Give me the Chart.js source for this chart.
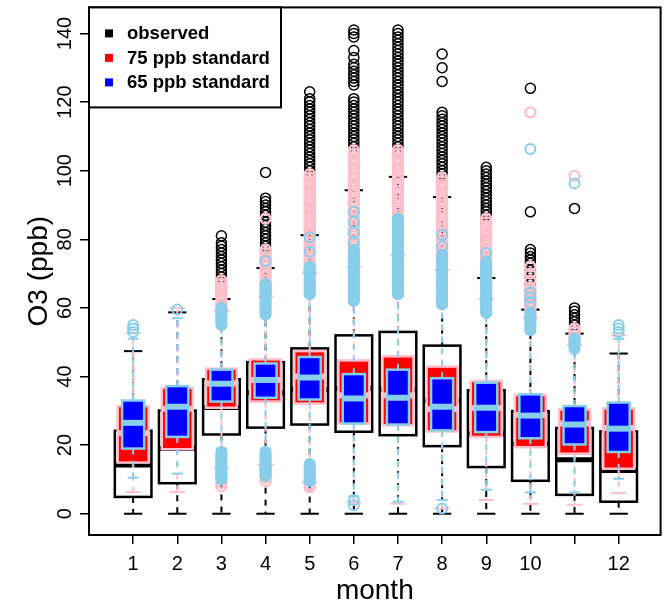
<!DOCTYPE html>
<html>
<head>
<meta charset="utf-8">
<script src="https://cdn.jsdelivr.net/npm/chart.js@4"></script>
<style>
  html, body { margin: 0; padding: 0; background: #fff; }
  canvas { display: block; }
</style>
</head>
<body>
<canvas id="chart" width="668" height="602"></canvas>
<script>
// data
const months = [1, 2, 3, 4, 5, 6, 7, 8, 9, 10, 11, 12];
const monthLabels = ['1', '2', '3', '4', '5', '6', '7', '8', '9', '10', '', '12'];
const yTicks = [0, 20, 40, 60, 80, 100, 120, 140];
const seriesNames = ['observed', '75 ppb standard', '65 ppb standard'];

// observed
const obsQ1  = [4.9, 8.9, 23.1, 25.1, 26.0, 23.9, 22.9, 19.7, 13.6, 9.6, 5.5, 3.5];
const obsMed = [14.2, 19, 31, 35.3, 36.2, 36.5, 36.2, 33, 23.3, 20.4, 15.7, 12.6];
const obsQ3  = [24.2, 30.1, 39.2, 44.2, 48.2, 52, 53, 49, 36, 29.9, 25, 24];
const obsLo  = [0, 0, 0, 0, 0, 0, 0, 0, 0, 0, 0, 0];
const obsHi  = [47.4, 58.7, 62.6, 71.6, 81.2, 94.3, 98.2, 92.3, 68.7, 59.5, 52.5, 46.7];
const obsOut = [
  [],
  [],
  [64, 65, 66, 67, 68, 69, 70, 71, 72, 73, 74, 75, 76, 77, 78, 79, 81],
  [73, 74, 75, 76, 77, 78, 79, 80, 81, 82, 83, 84, 85, 86, 87, 88, 89, 90, 91, 92, 99.5],
  [82, 83, 84, 85, 86, 87, 88, 89, 90, 91, 92, 93, 94, 95, 96, 97, 98, 99, 100, 101, 102, 103, 104, 105, 106, 107, 108, 109, 110, 111, 112, 113, 114, 115, 116, 117, 118, 119, 120, 121, 123],
  [95, 96, 97, 98, 99, 100, 101, 102, 103, 104, 105, 106, 107, 108, 109, 110, 111, 112, 113, 114, 115, 116, 117, 118, 119, 120, 121, 125, 126, 127, 128, 129, 130, 131, 133, 135, 139, 140, 141],
  [99, 100, 101, 102, 103, 104, 105, 106, 107, 108, 109, 110, 111, 112, 113, 114, 115, 116, 117, 118, 119, 120, 121, 122, 123, 124, 125, 126, 127, 128, 129, 130, 131, 132, 133, 134, 135, 136, 137, 138, 139, 140, 141],
  [93, 94, 95, 96, 97, 98, 99, 100, 101, 102, 103, 104, 105, 106, 107, 108, 109, 110, 111, 112, 113, 114, 115, 116, 117, 126, 130, 134],
  [70, 71, 72, 73, 74, 75, 76, 77, 78, 79, 80, 81, 82, 83, 84, 85, 86, 87, 88, 89, 90, 91, 92, 93, 94, 95, 96, 97, 98, 99, 100, 101],
  [60, 61, 62, 63, 64, 65, 66, 67, 68, 69, 70, 71, 72, 73, 74, 75, 76, 77, 88, 124],
  [53, 54, 55, 56, 57, 58, 59, 60, 89],
  []
];

// 75 ppb standard
const s75Q1  = [14.9, 18.8, 30.9, 32.7, 32.1, 26.3, 25.8, 24.0, 22.4, 19.4, 17.5, 13.1];
const s75Med = [23.5, 30.6, 38, 39, 40, 34.5, 34.5, 30.5, 30.8, 28.8, 26.3, 25];
const s75Q3  = [31.4, 36.7, 42.3, 45, 47.4, 44.7, 45.9, 42.9, 38.7, 34.6, 30.4, 30.7];
const s75Lo  = [6.3, 6.3, 13.5, 14.2, 9.2, 3.3, 2.9, 1.5, 4, 2.9, 2.6, 6];
const s75Hi  = [52.7, 60, 59.2, 63.3, 70.3, 72, 75.5, 71.1, 62.6, 57, 49.3, 52];
const s75Out = [
  [],
  [],
  [8, 9, 10, 11, 12, 60, 61, 62, 63, 64, 65, 66, 67, 68],
  [9.5, 10.5, 11.5, 12.5, 13.5, 64, 65, 66, 67, 68, 69, 70, 71, 72, 73, 74, 75, 76, 77, 86],
  [7.7, 8.5, 71, 72, 73, 74, 75, 76, 77, 78, 79, 80, 81, 82, 83, 84, 85, 86, 87, 88, 89, 90, 91, 92, 93, 94, 95, 96, 97, 98, 99],
  [73, 74, 75, 76, 77, 78, 79, 80, 81, 82, 83, 84, 85, 86, 87, 88, 89, 90, 91, 92, 93, 94, 95, 96, 97, 98, 99, 100, 101, 102, 103, 104, 105, 106],
  [76, 77, 78, 79, 80, 81, 82, 83, 84, 85, 86, 87, 88, 89, 90, 91, 92, 93, 94, 95, 96, 97, 98, 99, 100, 101, 102, 103, 104, 105, 106],
  [72, 73, 74, 75, 76, 77, 78, 79, 80, 81, 82, 83, 84, 85, 86, 87, 88, 89, 90, 91, 92, 93, 94, 95, 96, 97, 98],
  [63, 64, 65, 66, 67, 68, 69, 70, 71, 72, 73, 74, 75, 76, 77, 78, 79, 80, 81, 82, 83, 84, 85, 86],
  [58, 59, 60, 61, 62, 63, 64, 65, 66, 68, 70, 72, 117],
  [50, 51, 52, 53, 54, 98.5],
  []
];

// 65 ppb standard
const s65Q1  = [19.0, 22.4, 32.7, 33.8, 33.3, 26.3, 26.0, 24.3, 23.8, 22.0, 20.2, 18.0];
const s65Med = [26.5, 31.2, 37.9, 39.0, 39.7, 33.6, 33.8, 31.2, 30.9, 28.6, 26.0, 24.8];
const s65Q3  = [33.0, 37.2, 42.0, 43.8, 45.7, 40.7, 42.0, 39.5, 38.2, 34.8, 31.4, 32.4];
const s65Lo  = [10.5, 11.7, 19, 19, 15, 5, 3.5, 4, 7, 6.2, 6.2, 10.2];
const s65Hi  = [51, 57, 54.5, 57.5, 63.5, 61.5, 63.5, 60.5, 58, 53, 47.5, 51];
const s65Out = [
  [53, 54, 55],
  [59.5],
  [10, 10.5, 11, 11.5, 12, 12.5, 13, 13.5, 14, 14.5, 15, 15.5, 16, 16.5, 17, 17.5, 18,
   55, 55.5, 56, 56.5, 57, 57.5, 58, 58.5, 59, 59.5, 60],
  [11, 11.5, 12, 12.5, 13, 13.5, 14, 14.5, 15, 15.5, 16, 16.5, 17, 17.5, 18,
   58, 58.5, 59, 59.5, 60, 60.5, 61, 61.5, 62, 62.5, 63, 63.5, 64, 64.5, 65, 65.5, 66, 66.5, 67, 73.7],
  [9.5, 10, 10.5, 11, 11.5, 12, 12.5, 13, 13.5, 14, 14.5,
   64, 64.5, 65, 65.5, 66, 66.5, 67, 67.5, 68, 68.5, 69, 69.5, 70, 70.5, 71, 71.5, 72, 76.4, 80.6],
  [2.5, 4, 62, 62.5, 63, 63.5, 64, 64.5, 65, 65.5, 66, 66.5, 67, 67.5, 68, 68.5, 69, 69.5, 70, 70.5,
   71, 71.5, 72, 72.5, 73, 73.5, 74, 74.5, 75, 75.5, 76, 76.5, 77, 79, 82, 85, 88],
  [64, 64.5, 65, 65.5, 66, 66.5, 67, 67.5, 68, 68.5, 69, 69.5, 70, 70.5, 71, 71.5, 72, 72.5, 73, 73.5,
   74, 74.5, 75, 75.5, 76, 76.5, 77, 77.5, 78, 78.5, 79, 79.5, 80, 80.5, 81, 81.5, 82, 82.5, 83, 83.5,
   84, 84.5, 85, 85.5, 86],
  [1.5, 61, 61.5, 62, 62.5, 63, 63.5, 64, 64.5, 65, 65.5, 66, 66.5, 67, 67.5, 68, 68.5, 69, 69.5, 70,
   70.5, 71, 71.5, 72, 72.5, 73, 73.5, 74, 74.5, 75, 75.5, 78, 81.3],
  [58.5, 59, 59.5, 60, 60.5, 61, 61.5, 62, 62.5, 63, 63.5, 64, 64.5, 65, 65.5, 66, 66.5, 67, 67.5, 68,
   68.5, 69, 69.5, 70, 70.5, 71, 71.5, 72, 72.5, 73, 73.5, 76],
  [53.5, 54, 54.5, 55, 55.5, 56, 56.5, 57, 57.5, 58, 58.5, 61.5, 63, 64.5, 106.3],
  [48, 48.5, 49, 49.5, 50, 50.5, 51, 96.3],
  [53, 54, 55]
];

// styles for each box series
const boxStyles = {
  obs: { q1: obsQ1, med: obsMed, q3: obsQ3, lo: obsLo, hi: obsHi,
         fill: null, border: '#000000', line: '#000000', width: 0.83, medWidth: 5 },
  s75: { q1: s75Q1, med: s75Med, q3: s75Q3, lo: s75Lo, hi: s75Hi,
         fill: '#FF0000', border: '#FFC0CB', line: '#FFC0CB', width: 0.70, medWidth: 6 },
  s65: { q1: s65Q1, med: s65Med, q3: s65Q3, lo: s65Lo, hi: s65Hi,
         fill: '#0000FF', border: '#87CEEB', line: '#87CEEB', width: 0.50, medWidth: 6 }
};
const legendColors = ['#000000', '#FF0000', '#0000FF'];

function outlierPoints(lists) {
  const pts = [];
  lists.forEach((vals, i) => vals.forEach(v => pts.push({ x: months[i], y: v })));
  return pts;
}

function seg(ctx, x1, y1, x2, y2) {
  ctx.beginPath();
  ctx.moveTo(x1, y1);
  ctx.lineTo(x2, y2);
  ctx.stroke();
}

// boxes, whiskers and medians are drawn just before each series' outliers
const boxPlugin = {
  id: 'boxes',
  beforeDatasetDraw(chart, args) {
    const st = boxStyles[chart.data.datasets[args.index].key];
    const xs = chart.scales.x, ys = chart.scales.y, ctx = chart.ctx;
    ctx.save();
    months.forEach((m, i) => {
      const cx = xs.getPixelForValue(m);
      const hw = xs.getPixelForValue(m + st.width / 2) - cx;
      const yq1 = ys.getPixelForValue(st.q1[i]);
      const yq3 = ys.getPixelForValue(st.q3[i]);
      const ymd = ys.getPixelForValue(st.med[i]);
      const ylo = ys.getPixelForValue(st.lo[i]);
      const yhi = ys.getPixelForValue(st.hi[i]);

      // whiskers (dashed) and staples
      ctx.strokeStyle = st.line;
      ctx.lineWidth = 2;
      ctx.setLineDash([6, 6]);
      seg(ctx, cx, yq3, cx, yhi);
      seg(ctx, cx, yq1, cx, ylo);
      ctx.setLineDash([]);
      seg(ctx, cx - hw / 2, yhi, cx + hw / 2, yhi);
      seg(ctx, cx - hw / 2, ylo, cx + hw / 2, ylo);

      // box
      if (st.fill) {
        ctx.fillStyle = st.fill;
        ctx.fillRect(cx - hw, yq3, 2 * hw, yq1 - yq3);
      }
      ctx.strokeStyle = st.border;
      ctx.lineWidth = 2.5;
      ctx.strokeRect(cx - hw, yq3, 2 * hw, yq1 - yq3);

      // median
      ctx.lineWidth = st.medWidth;
      seg(ctx, cx - hw, ymd, cx + hw, ymd);
    });
    ctx.restore();
  },
  afterDraw(chart) {
    const ctx = chart.ctx, area = chart.chartArea, ys = chart.scales.y;
    ctx.save();
    // frame
    ctx.strokeStyle = '#000';
    ctx.lineWidth = 2;
    ctx.strokeRect(area.left, area.top, area.right - area.left, area.bottom - area.top);

    // y tick labels, turned like R does
    ctx.fillStyle = '#000';
    ctx.font = '20px "Liberation Sans", Arial, sans-serif';
    ctx.textAlign = 'center';
    ctx.textBaseline = 'alphabetic';
    yTicks.forEach(v => {
      ctx.save();
      ctx.translate(area.left - 18, ys.getPixelForValue(v));
      ctx.rotate(-Math.PI / 2);
      ctx.fillText(String(v), 0, 0);
      ctx.restore();
    });

    // axis titles
    ctx.font = '28px "Liberation Sans", Arial, sans-serif';
    ctx.fillText('month', (area.left + area.right) / 2, 599);
    ctx.save();
    ctx.translate(area.left - 42, (area.top + area.bottom) / 2);
    ctx.rotate(-Math.PI / 2);
    ctx.fillText('O3 (ppb)', 0, 0);
    ctx.restore();

    // legend
    const lx = area.left, ly = area.top;
    ctx.fillStyle = '#fff';
    ctx.fillRect(lx, ly, 192, 100);
    ctx.strokeRect(lx, ly, 192, 100);
    ctx.font = 'bold 18.5px "Liberation Sans", Arial, sans-serif';
    ctx.textAlign = 'left';
    ctx.textBaseline = 'middle';
    seriesNames.forEach((name, i) => {
      const cy = ly + 26 + i * 24.5;
      ctx.fillStyle = legendColors[i];
      ctx.fillRect(lx + 16, cy - 4, 8, 8);
      ctx.fillStyle = '#000';
      ctx.fillText(name, lx + 38, cy + 1);
    });
    ctx.restore();
  }
};

const pointStyle = {
  type: 'scatter',
  showLine: false,
  pointRadius: 5,
  pointHoverRadius: 5,
  backgroundColor: 'rgba(0,0,0,0)'
};

new Chart(document.getElementById('chart'), {
  type: 'scatter',
  data: {
    datasets: [
      Object.assign({ label: seriesNames[0], key: 'obs', data: outlierPoints(obsOut), borderColor: '#000000', pointBorderWidth: 1.5, order: 3 }, pointStyle),
      Object.assign({ label: seriesNames[1], key: 's75', data: outlierPoints(s75Out), borderColor: '#FFC0CB', pointBorderWidth: 2.4, order: 2 }, pointStyle),
      Object.assign({ label: seriesNames[2], key: 's65', data: outlierPoints(s65Out), borderColor: '#87CEEB', pointBorderWidth: 2, order: 1 }, pointStyle)
    ]
  },
  options: {
    responsive: false,
    devicePixelRatio: 1,
    animation: false,
    layout: { padding: { left: 0, right: 3, top: 7, bottom: 0 } },
    plugins: {
      legend: { display: false },
      tooltip: { enabled: false }
    },
    scales: {
      x: {
        type: 'linear',
        min: 0,
        max: 12.95,
        afterBuildTicks: s => { s.ticks = months.map(v => ({ value: v })); },
        afterFit: s => { s.height = 67; },
        ticks: {
          autoSkip: false,
          maxRotation: 0,
          minRotation: 0,
          padding: 8,
          color: '#000',
          font: { family: '"Liberation Sans", Arial, sans-serif', size: 20 },
          callback: (value, index) => monthLabels[index]
        },
        grid: { drawOnChartArea: false, drawTicks: true, tickLength: 9, color: '#000', lineWidth: 1.5 },
        border: { display: false }
      },
      y: {
        type: 'linear',
        min: -6.2,
        max: 147.6,
        afterBuildTicks: s => { s.ticks = yTicks.map(v => ({ value: v })); },
        afterFit: s => { s.width = 89; },
        ticks: { display: false },
        grid: { drawOnChartArea: false, drawTicks: true, tickLength: 9, color: '#000', lineWidth: 1.5 },
        border: { display: false }
      }
    }
  },
  plugins: [boxPlugin]
});
</script>
</body>
</html>
